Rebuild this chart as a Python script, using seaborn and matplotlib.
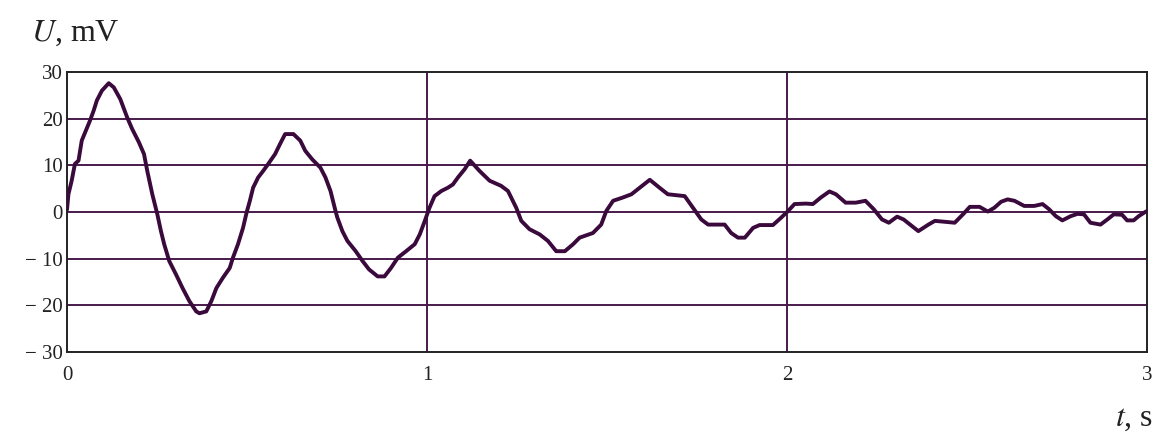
import numpy as np
import pandas as pd
import matplotlib
matplotlib.use("Agg")
import matplotlib.pyplot as plt
import seaborn as sns

# time, s
t = [0.000, 0.004, 0.013, 0.022, 0.032, 0.041, 0.050, 0.064, 0.074, 0.083,
     0.097, 0.116, 0.130, 0.148, 0.167, 0.181, 0.200, 0.214, 0.223, 0.237,
     0.251, 0.261, 0.270, 0.284, 0.303, 0.321, 0.340, 0.359, 0.368, 0.387,
     0.401, 0.415, 0.433, 0.452, 0.461, 0.475, 0.489, 0.499, 0.508, 0.517,
     0.531, 0.545, 0.559, 0.578, 0.592, 0.606, 0.629, 0.648, 0.662, 0.681,
     0.704, 0.718, 0.732, 0.746, 0.751, 0.765, 0.779, 0.802, 0.821, 0.839,
     0.863, 0.882, 0.900, 0.919, 0.942, 0.966, 0.980, 0.994,
     1.007, 1.021, 1.040, 1.058, 1.072, 1.086, 1.105, 1.120, 1.146, 1.174,
     1.206, 1.225, 1.248, 1.262, 1.285, 1.313, 1.336, 1.359, 1.383, 1.406,
     1.424, 1.461, 1.484, 1.498, 1.517, 1.544, 1.568, 1.591, 1.619, 1.646,
     1.669, 1.716, 1.739, 1.762, 1.781, 1.827, 1.845, 1.864, 1.883, 1.906,
     1.924, 1.961, 1.984,
     2.003, 2.021, 2.053, 2.072, 2.094, 2.118, 2.136, 2.163, 2.191, 2.218,
     2.241, 2.264, 2.283, 2.306, 2.324, 2.347, 2.365, 2.393, 2.411, 2.466,
     2.489, 2.508, 2.535, 2.558, 2.576, 2.595, 2.613, 2.632, 2.659, 2.687,
     2.710, 2.728, 2.747, 2.765, 2.788, 2.807, 2.825, 2.843, 2.871, 2.890,
     2.908, 2.931, 2.945, 2.963, 2.977, 2.997]

# voltage, mV
u = [0.5, 3.8, 6.7, 10.3, 11.0, 15.3, 17.0, 19.6, 21.7, 23.9,
     26.0, 27.6, 26.7, 24.2, 20.3, 17.8, 14.9, 12.4, 8.8, 3.8,
     -0.5, -4.1, -6.9, -10.5, -13.4, -16.3, -19.1, -21.3, -21.7, -21.3,
     -19.1, -16.3, -14.1, -12.0, -9.8, -6.9, -3.4, -0.1, 2.4, 5.2,
     7.4, 8.8, 10.3, 12.4, 14.6, 16.7, 16.7, 15.3, 13.1, 11.3,
     9.5, 7.4, 4.5, 0.2, -1.2, -4.1, -6.2, -8.4, -10.5, -12.3,
     -13.8, -13.8, -12.0, -9.8, -8.4, -6.9, -4.8, -1.9,
     0.9, 3.4, 4.5, 5.2, 5.9, 7.4, 9.2, 11.0, 8.8, 6.7,
     5.6, 4.5, 0.9, -1.9, -3.7, -4.8, -6.2, -8.4, -8.4, -6.9,
     -5.5, -4.5, -2.7, 0.2, 2.4, 3.1, 3.8, 5.2, 6.9, 5.2,
     3.8, 3.4, 0.9, -1.6, -2.7, -2.7, -4.5, -5.5, -5.5, -3.4,
     -2.8, -2.8, -1.2,
     0.2, 1.7, 1.8, 1.7, 3.1, 4.4, 3.8, 2.0, 2.0, 2.4,
     0.6, -1.6, -2.3, -1.0, -1.6, -3.0, -4.1, -2.7, -1.9, -2.3,
     -0.5, 1.1, 1.1, 0.1, 0.9, 2.2, 2.7, 2.4, 1.3, 1.3,
     1.7, 0.6, -0.9, -1.8, -0.9, -0.4, -0.5, -2.3, -2.7, -1.6,
     -0.5, -0.6, -1.8, -1.8, -0.9, 0.1]

x_ticks = [0, 1, 2, 3]
y_ticks = [-30, -20, -10, 0, 10, 20, 30]
y_tick_labels = ["\u2212 30", "\u2212 20", "\u2212 10", "0", "10", "20", "30"]

df = pd.DataFrame({"t": t, "U": u})

sns.set_style("white")
plt.rcParams["font.family"] = ["Liberation Serif", "DejaVu Serif"]
plt.rcParams["mathtext.fontset"] = "stix"

line_color = "#3a0a3c"
grid_color = "#4a1a4c"

fig = plt.figure(figsize=(11.65, 4.4), dpi=100)
ax = fig.add_axes([0.0575, 0.2, 0.927, 0.6364])

for yv in y_ticks[1:-1]:
    ax.axhline(yv, color=grid_color, lw=1.4, zorder=1)
for xv in x_ticks[1:-1]:
    ax.axvline(xv, color=grid_color, lw=1.4, zorder=1)

sns.lineplot(data=df, x="t", y="U", ax=ax, color=line_color, lw=2.8, zorder=3)

ax.set_xlim(0, 3)
ax.set_ylim(-30, 30)
ax.set_xticks(x_ticks)
ax.set_xticklabels([str(v) for v in x_ticks])
ax.set_yticks(y_ticks)
ax.set_yticklabels(y_tick_labels)
ax.tick_params(axis="both", length=0, labelsize=15, colors="#222222")
ax.tick_params(axis="y", pad=3)
ax.tick_params(axis="x", pad=10)
ax.set_xlabel("")
ax.set_ylabel("")

for s in ax.spines.values():
    s.set_visible(True)
    s.set_color("#222222")
    s.set_linewidth(1.4)

fig.text(0.027, 0.925, "$U$, mV", fontsize=23, color="#222222", va="center", ha="left")
fig.text(0.99, 0.05, "$t$, s", fontsize=23, color="#222222", va="center", ha="right")

fig.savefig("out.png", dpi=100)
